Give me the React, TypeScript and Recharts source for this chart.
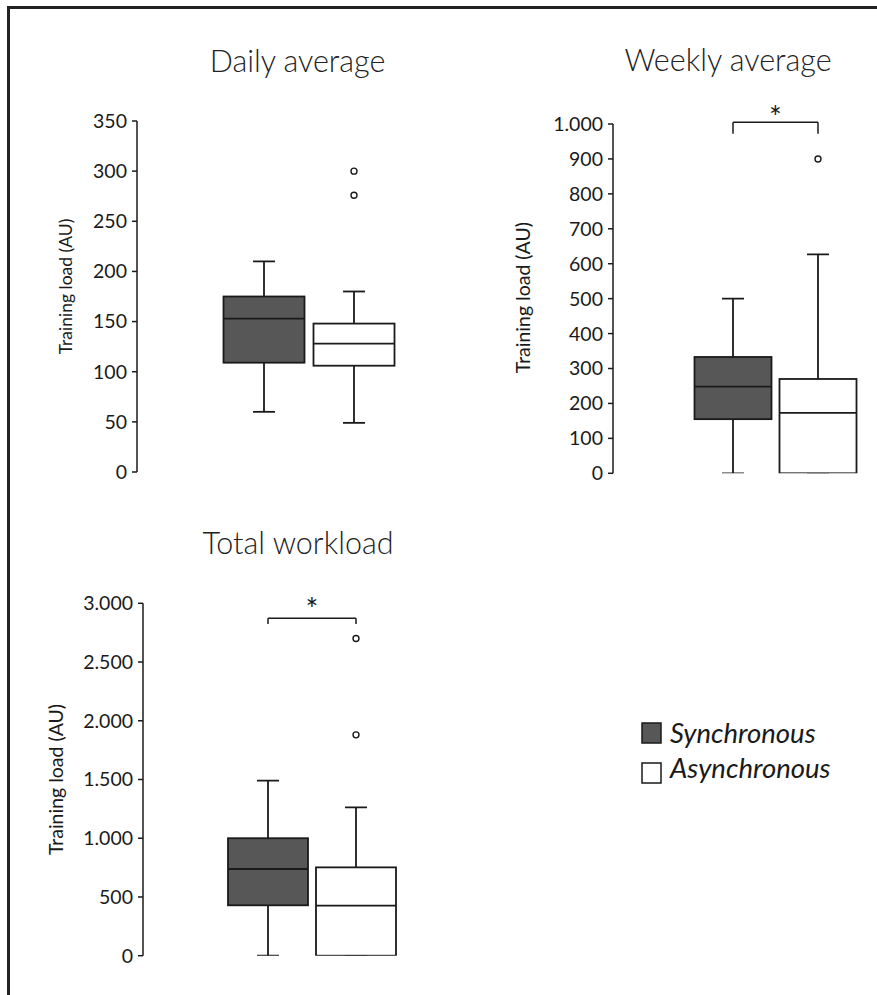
import React from 'react';
import { ComposedChart, Bar, Cell, XAxis, YAxis, ReferenceLine } from 'recharts';

const FONT = 'Lato, "Open Sans", sans-serif';
const INK = '#1a1a1a';

const groups = ['Synchronous', 'Asynchronous'];
const groupFills = ['#575757', '#ffffff'];

// Daily average (AU)
const dailyMin = [60, 49];
const dailyQ1 = [109, 106];
const dailyMedian = [153, 128];
const dailyQ3 = [175, 148];
const dailyMax = [210, 180];
const dailyOutliers = [[], [276, 300]];
const dailyTicks = [0, 50, 100, 150, 200, 250, 300, 350];

// Weekly average (AU)
const weeklyMin = [0, 0];
const weeklyQ1 = [155, 0];
const weeklyMedian = [248, 173];
const weeklyQ3 = [333, 270];
const weeklyMax = [500, 627];
const weeklyOutliers = [[], [900]];
const weeklyTicks = [0, 100, 200, 300, 400, 500, 600, 700, 800, 900, 1000];
const weeklySig = [1005, 972]; // bracket level, bracket tick end

// Total workload (AU)
const totalMin = [0, 0];
const totalQ1 = [429, 0];
const totalMedian = [738, 426];
const totalQ3 = [1000, 752];
const totalMax = [1490, 1263];
const totalOutliers = [[], [1880, 2700]];
const totalTicks = [0, 500, 1000, 1500, 2000, 2500, 3000];
const totalSig = [2872, 2824];

type Row = {
  name: string;
  box: [number, number];
  min: number;
  q1: number;
  median: number;
  q3: number;
  max: number;
  outliers: number[];
};

function buildRows(
  min: number[],
  q1: number[],
  med: number[],
  q3: number[],
  max: number[],
  out: number[][]
): Row[] {
  return groups.map((g, i) => ({
    name: g,
    box: [q1[i], q3[i]],
    min: min[i],
    q1: q1[i],
    median: med[i],
    q3: q3[i],
    max: max[i],
    outliers: out[i],
  }));
}

const dailyRows = buildRows(dailyMin, dailyQ1, dailyMedian, dailyQ3, dailyMax, dailyOutliers);
const weeklyRows = buildRows(weeklyMin, weeklyQ1, weeklyMedian, weeklyQ3, weeklyMax, weeklyOutliers);
const totalRows = buildRows(totalMin, totalQ1, totalMedian, totalQ3, totalMax, totalOutliers);

const fmt = (v: number) => String(v).replace(/\B(?=(\d{3})+(?!\d))/g, '.');

const BoxShape = (props: any) => {
  const { x, y, width, height, payload, fill } = props;
  if (!payload) return null;
  const top = Math.min(y, y + height);
  const h = Math.abs(height);
  const { q1, q3, median, min, max, outliers } = payload as Row;
  const k = h / (q3 - q1);
  const toY = (v: number) => top + (q3 - v) * k;
  const cx = x + width / 2;
  const cap = 11;
  const sw = 1.8;
  return (
    <g>
      <line x1={cx} x2={cx} y1={toY(max)} y2={toY(q3)} stroke={INK} strokeWidth={sw} />
      <line x1={cx} x2={cx} y1={toY(q1)} y2={toY(min)} stroke={INK} strokeWidth={sw} />
      <line x1={cx - cap} x2={cx + cap} y1={toY(max)} y2={toY(max)} stroke={INK} strokeWidth={sw} />
      <line x1={cx - cap} x2={cx + cap} y1={toY(min)} y2={toY(min)} stroke={INK} strokeWidth={sw} />
      <rect x={x} y={top} width={width} height={h} fill={fill} stroke={INK} strokeWidth={sw} />
      <line x1={x} x2={x + width} y1={toY(median)} y2={toY(median)} stroke={INK} strokeWidth={sw} />
      {outliers.map((o, i) => (
        <circle key={i} cx={cx} cy={toY(o)} r={3} fill="#fff" stroke={INK} strokeWidth={1.4} />
      ))}
    </g>
  );
};

type PanelProps = {
  left: number;
  top: number;
  width: number;
  height: number;
  margin: { top: number; right: number; bottom: number; left: number };
  yAxisWidth: number;
  padLeft: number;
  barSize: number;
  domain: [number, number];
  ticks: number[];
  rows: Row[];
  labelX: number;
  labelDy: number;
  labelSize: number;
  sig?: number[];
  starOffset?: number;
};

function Panel(p: PanelProps) {
  const renderLabel = (lp: any) => {
    const vb = lp.viewBox || {};
    const lx = (vb.x || 0) + p.labelX;
    const ly = (vb.y || 0) + (vb.height || 0) / 2 + p.labelDy;
    return (
      <text
        x={lx}
        y={ly}
        transform={`rotate(-90, ${lx}, ${ly})`}
        textAnchor="middle"
        dominantBaseline="central"
        fontFamily={FONT}
        fontSize={p.labelSize}
        fill={INK}
      >
        Training load (AU)
      </text>
    );
  };
  return (
    <div style={{ position: 'absolute', left: p.left, top: p.top }}>
      <ComposedChart
        width={p.width}
        height={p.height}
        data={p.rows}
        margin={p.margin}
        barSize={p.barSize}
      >
        <XAxis dataKey="name" type="category" hide padding={{ left: p.padLeft, right: 0 }} />
        <YAxis
          type="number"
          domain={p.domain}
          ticks={p.ticks}
          interval={0}
          width={p.yAxisWidth}
          allowDataOverflow
          tickSize={5}
          tickMargin={5}
          tickFormatter={fmt}
          axisLine={{ stroke: INK, strokeWidth: 1.5 }}
          tickLine={{ stroke: INK, strokeWidth: 1.5 }}
          tick={{ fill: INK, fontSize: 19.5, fontFamily: FONT }}
          label={{ content: renderLabel }}
        />
        <Bar dataKey="box" isAnimationActive={false} shape={<BoxShape />}>
          {p.rows.map((r, i) => (
            <Cell key={r.name} fill={groupFills[i]} />
          ))}
        </Bar>
        {p.sig && (
          <ReferenceLine
            segment={[
              { x: groups[0], y: p.sig[0] },
              { x: groups[1], y: p.sig[0] },
            ]}
            ifOverflow="visible"
            stroke={INK}
            strokeWidth={1.5}
            label={{ value: '*', position: 'top', offset: p.starOffset ?? 1, fontSize: 30, fill: INK, fontFamily: FONT }}
          />
        )}
        {p.sig && (
          <ReferenceLine
            segment={[
              { x: groups[0], y: p.sig[0] },
              { x: groups[0], y: p.sig[1] },
            ]}
            ifOverflow="visible"
            stroke={INK}
            strokeWidth={1.5}
          />
        )}
        {p.sig && (
          <ReferenceLine
            segment={[
              { x: groups[1], y: p.sig[0] },
              { x: groups[1], y: p.sig[1] },
            ]}
            ifOverflow="visible"
            stroke={INK}
            strokeWidth={1.5}
          />
        )}
      </ComposedChart>
    </div>
  );
}

export default function App() {
  return (
    <div
      style={{
        position: 'absolute',
        left: 0,
        top: 0,
        width: 877,
        height: 995,
        background: '#fff',
        overflow: 'hidden',
      }}
    >
      <div
        style={{
          position: 'absolute',
          left: 7,
          top: 6,
          width: 900,
          height: 1000,
          borderLeft: '3px solid #222',
          borderTop: '3px solid #222',
        }}
      />
      <Panel
        left={0}
        top={0}
        width={440}
        height={500}
        margin={{ top: 121, right: 41.5, bottom: 28, left: 0 }}
        yAxisWidth={137}
        padLeft={81.5}
        barSize={81}
        domain={[0, 350]}
        ticks={dailyTicks}
        rows={dailyRows}
        labelX={65}
        labelDy={-10}
        labelSize={17.5}
      />
      <Panel
        left={440}
        top={0}
        width={437}
        height={500}
        margin={{ top: 124, right: 16.5, bottom: 26.7, left: 0 }}
        yAxisWidth={173}
        padLeft={77.5}
        barSize={77}
        domain={[0, 1000]}
        ticks={weeklyTicks}
        rows={weeklyRows}
        labelX={83}
        labelDy={-1}
        labelSize={19.5}
        sig={weeklySig}
        starOffset={-6}
      />
      <Panel
        left={0}
        top={500}
        width={440}
        height={495}
        margin={{ top: 103.3, right: 40, bottom: 39.3, left: 0 }}
        yAxisWidth={143}
        padLeft={81}
        barSize={80}
        domain={[0, 3000]}
        ticks={totalTicks}
        rows={totalRows}
        labelX={55}
        labelDy={0}
        labelSize={19.5}
        sig={totalSig}
        starOffset={-2}
      />
      <svg
        width={877}
        height={995}
        style={{ position: 'absolute', left: 0, top: 0, pointerEvents: 'none' }}
      >
        <g fontFamily={FONT} fill="#222" fontWeight={300}>
          <text x={297.5} y={72} textAnchor="middle" fontSize={30.5}>
            Daily average
          </text>
          <text x={728} y={71} textAnchor="middle" fontSize={30.5}>
            Weekly average
          </text>
          <text x={298} y={554} textAnchor="middle" fontSize={30.5}>
            Total workload
          </text>
        </g>
        <rect x={642} y={723} width={19} height={20} fill={groupFills[0]} stroke={INK} strokeWidth={1.5} />
        <rect x={642} y={763} width={19} height={20} fill={groupFills[1]} stroke={INK} strokeWidth={1.5} />
        <g fontFamily={FONT} fill={INK} fontStyle="italic" fontSize={27.5}>
          <text x={670} y={743}>{groups[0]}</text>
          <text x={670} y={778}>{groups[1]}</text>
        </g>
      </svg>
    </div>
  );
}
